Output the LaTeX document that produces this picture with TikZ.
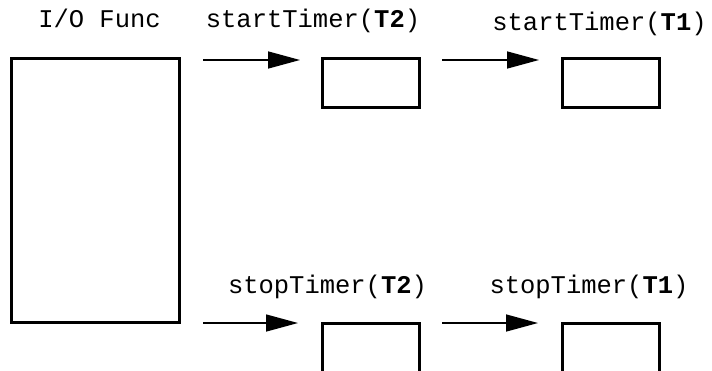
\documentclass[tikz,border=0pt]{standalone}
\usepackage{fontspec}
\setmainfont{Liberation Mono}
\usetikzlibrary{arrows.meta}
\tikzset{
  box/.style={draw, line width=3pt, inner sep=0pt, minimum width=97pt, minimum height=49pt},
  lbl/.style={anchor=base, inner sep=0pt, font=\fontsize{25.5}{30}\selectfont},
  flow/.style={line width=1.5pt, -{Triangle[length=32pt,width=17pt]}}
}
\begin{document}
\begin{tikzpicture}[x=1pt,y=-1pt]
\useasboundingbox (0,0) rectangle (712,370);
\clip (0,0) rectangle (712,370);
% boxes
\node[box, minimum width=168pt, minimum height=264pt] (io) at (95,190) {};
\node[box] (s2) at (370.5,82.5) {};
\node[box] (s1) at (610.5,82.5) {};
\node[box] (p2) at (370.5,347.5) {};
\node[box] (p1) at (610.5,347.5) {};
% labels
\node[lbl] (lio) at (99.5,27) {I/O Func};
\node[lbl] (ls2) at (313,27) {startTimer(\textbf{T2})};
\node[lbl] (ls1) at (599.5,30) {startTimer(\textbf{T1})};
\node[lbl] (lp2) at (327.5,293) {stopTimer(\textbf{T2})};
\node[lbl] (lp1) at (589,293) {stopTimer(\textbf{T1})};
% arrow end points
\coordinate (a1s) at (203,60);
\coordinate (a1e) at (300,60);
\coordinate (a2s) at (442,60);
\coordinate (a2e) at (539,60);
\coordinate (a3s) at (203,323);
\coordinate (a3e) at (298,323);
\coordinate (a4s) at (442,323);
\coordinate (a4e) at (538,323);
\draw[flow] (a1s) -- (a1e);
\draw[flow] (a2s) -- (a2e);
\draw[flow] (a3s) -- (a3e);
\draw[flow] (a4s) -- (a4e);
\end{tikzpicture}
\end{document}
